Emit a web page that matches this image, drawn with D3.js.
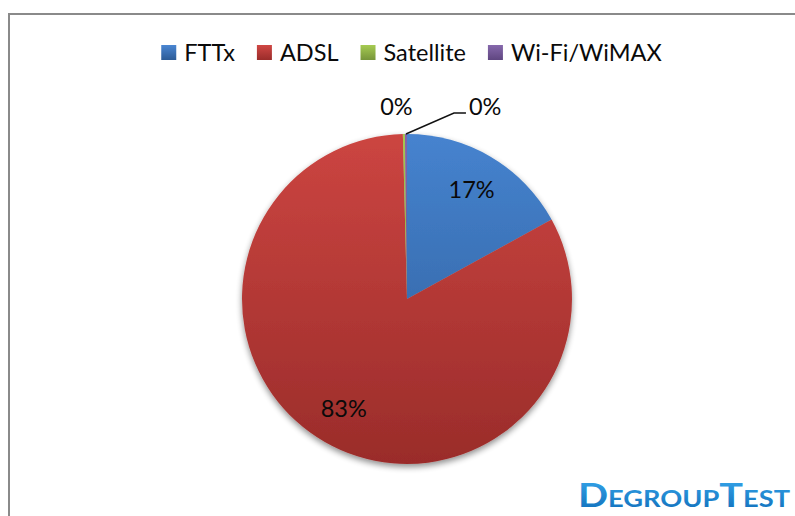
<!DOCTYPE html>
<html><head><meta charset="utf-8">
<script src="https://cdn.jsdelivr.net/npm/d3@7"></script>
<style>
html,body{margin:0;padding:0;background:#fff;}
svg{display:block;}
text{font-family:Lato,"Open Sans",sans-serif;}
</style></head>
<body>
<svg id="chart" width="795" height="516"></svg>
<script>
const categories = ["FTTx", "ADSL", "Satellite", "Wi-Fi/WiMAX"];
const values = [17.0, 82.6, 0.2, 0.2];
const labels = ["17%", "83%", "0%", "0%"];
const colorsTop = ["#4683cf", "#cc4541", "#a3c84f", "#8464a8"];
const colorsBot = ["#2c5b96", "#9a2c2a", "#77953a", "#5f4680"];
const legendColorsTop = ["#4a86d2", "#d04744", "#a6cb52", "#8668ac"];

const W = 795, H = 516;
const svg = d3.select("#chart");
const defs = svg.append("defs");

const cx = 407, cy = 299, R = 165;

// gradients (local pie coordinates)
categories.forEach((c, i) => {
  const g = defs.append("linearGradient").attr("id", "g" + i)
    .attr("gradientUnits", "userSpaceOnUse")
    .attr("x1", 0).attr("y1", -R).attr("x2", 0).attr("y2", R);
  g.append("stop").attr("offset", "0%").attr("stop-color", colorsTop[i]);
  g.append("stop").attr("offset", "100%").attr("stop-color", colorsBot[i]);
  const lg = defs.append("linearGradient").attr("id", "lg" + i)
    .attr("x1", 0).attr("y1", 0).attr("x2", 0).attr("y2", 1);
  lg.append("stop").attr("offset", "0%").attr("stop-color", legendColorsTop[i]);
  lg.append("stop").attr("offset", "100%").attr("stop-color", colorsBot[i]);
});
const sh = defs.append("filter").attr("id", "shadow")
  .attr("x", "-20%").attr("y", "-20%").attr("width", "140%").attr("height", "140%");
sh.append("feGaussianBlur").attr("in", "SourceAlpha").attr("stdDeviation", 3).attr("result", "b");
sh.append("feOffset").attr("in", "b").attr("dx", 0).attr("dy", 3).attr("result", "o");
sh.append("feComponentTransfer").attr("in", "o").attr("result", "o2")
  .append("feFuncA").attr("type", "linear").attr("slope", 0.45);
const mg = sh.append("feMerge");
mg.append("feMergeNode").attr("in", "o2");
mg.append("feMergeNode").attr("in", "SourceGraphic");

// frame
svg.append("rect").attr("x", 9).attr("y", 14).attr("width", W + 20).attr("height", H + 20)
  .attr("fill", "none").attr("stroke", "#8a8a8a").attr("stroke-width", 2);

// legend
const legend = svg.append("g");
const fs = 23.5;
const items = legend.selectAll("g").data(categories).join("g");
items.append("rect").attr("width", 15).attr("height", 15).attr("y", -16)
  .attr("fill", (d, i) => `url(#lg${i})`);
items.append("text").attr("x", 23).attr("y", 0).attr("font-size", fs).attr("fill", "#0a0a0a").text(d => d);
let widths = [];
items.each(function () { widths.push(23 + d3.select(this).select("text").node().getComputedTextLength()); });
const gap = 22;
const total = d3.sum(widths) + gap * (widths.length - 1);
let x0 = 411.5 - total / 2;
items.attr("transform", (d, i) => {
  const x = x0 + d3.sum(widths.slice(0, i)) + gap * i;
  return `translate(${x},61)`;
});

// pie
const pie = d3.pie().sort(null).value(d => d);
const arcs = pie(values);
const arc = d3.arc().innerRadius(0).outerRadius(R);
const g = svg.append("g").attr("transform", `translate(${cx},${cy})`);
g.append("g").attr("filter", "url(#shadow)")
  .selectAll("path").data(arcs).join("path")
  .attr("d", arc)
  .attr("fill", (d, i) => `url(#g${i})`);

// inside labels
const labelArc = d3.arc().innerRadius(R * 0.77).outerRadius(R * 0.77);
arcs.forEach((a, i) => {
  if (values[i] >= 5) {
    const [x, y] = labelArc.centroid(a);
    g.append("text").attr("x", x).attr("y", y).attr("dy", "0.35em")
      .attr("text-anchor", "middle").attr("font-size", fs).attr("fill", "#0a0a0a").text(labels[i]);
  }
});
// outside labels for tiny slices
const outArc = d3.arc().innerRadius(R).outerRadius(R);
const farArc = d3.arc().innerRadius(R + 27).outerRadius(R + 27);
const small = arcs.map((a, i) => i).filter(i => values[i] < 5);
small.forEach((i, k) => {
  const a = arcs[i];
  const [fx, fy] = farArc.centroid(a);
  if (k === 0) {
    g.append("text").attr("x", fx - 7).attr("y", fy + 8).attr("text-anchor", "middle")
      .attr("font-size", fs).attr("fill", "#0a0a0a").text(labels[i]);
  } else {
    const [ox, oy] = outArc.centroid(a);
    const ey = fy + 6;
    g.append("polyline")
      .attr("points", `${ox},${oy} ${ox + 48},${ey} ${ox + 60},${ey}`)
      .attr("fill", "none").attr("stroke", "#111").attr("stroke-width", 1.5);
    g.append("text").attr("x", ox + 63).attr("y", fy + 8).attr("text-anchor", "start")
      .attr("font-size", fs).attr("fill", "#0a0a0a").text(labels[i]);
  }
});

// watermark logo
const lgGrad = defs.append("linearGradient").attr("id", "logo")
  .attr("x1", 0).attr("y1", 0).attr("x2", 0).attr("y2", 1);
lgGrad.append("stop").attr("offset", "0%").attr("stop-color", "#38a9ee");
lgGrad.append("stop").attr("offset", "100%").attr("stop-color", "#0f6cb8");
svg.append("text").attr("x", 578).attr("y", 507)
  .attr("font-family", "'DejaVu Sans'").attr("font-weight", "bold")
  .attr("font-size", 32).style("font-variant", "small-caps")
  .attr("textLength", 212).attr("lengthAdjust", "spacingAndGlyphs")
  .attr("fill", "url(#logo)").text("DegroupTest");
</script>
</body></html>
